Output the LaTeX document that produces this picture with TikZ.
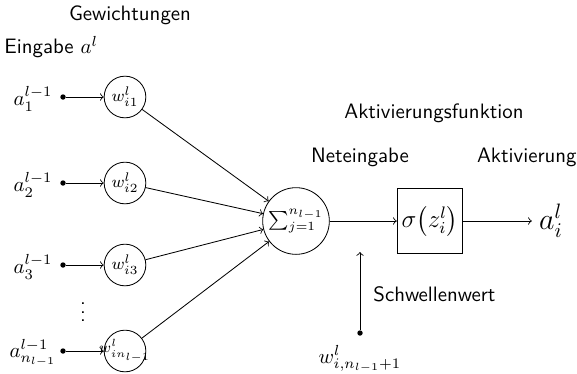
\documentclass[tikz,border=0pt]{standalone}
\usepackage{amsmath}
\usetikzlibrary{positioning,arrows}
\renewcommand{\familydefault}{\sfdefault}
\tikzset{
  weight/.style={draw, circle, minimum size=20pt, inner sep=0pt, font=\footnotesize},
  neuron/.style={draw, circle, minimum size=32pt, inner sep=0pt, font=\small},
  actbox/.style={draw, rectangle, minimum size=31.5pt, inner sep=0pt, font=\large},
  dotpt/.style={fill, circle, inner sep=0pt, minimum size=2.6pt},
  conn/.style={->, >=to}
}
\begin{document}
\begin{tikzpicture}[x=0.48pt, y=0.48pt]
    \useasboundingbox (0,0) rectangle (577,-373);

    % headings
    \node (gew) at (130,-15) {Gewichtungen};
    \node[anchor=west, inner sep=0pt] (ein) at (4,-47) {Eingabe $a^l$};
    \node (akf) at (434,-113) {Aktivierungsfunktion};
    \node (net) at (360,-157) {Neteingabe};
    \node[anchor=east, inner sep=0pt] (akt) at (577,-157) {Aktivierung};
    \node[anchor=west, inner sep=0pt] (schw) at (373,-294) {Schwellenwert};

    % inputs and weights
    \node (a1) at (33,-99) {$a_1^{l-1}$};
    \node (a2) at (33,-185) {$a_2^{l-1}$};
    \node (a3) at (33,-267) {$a_3^{l-1}$};
    \node (an) at (33,-353) {$a_{n_{l-1}}^{l-1}$};
    \node (vdots) at (83,-306) {$\vdots$};

    \node[dotpt] (d1) at (63,-97) {};
    \node[dotpt] (d2) at (63,-183) {};
    \node[dotpt] (d3) at (63,-265) {};
    \node[dotpt] (dn) at (63,-351) {};

    \node[weight] (w1) at (125,-97) {$w_{i1}^l$};
    \node[weight] (w2) at (125,-183) {$w_{i2}^l$};
    \node[weight] (w3) at (125,-265) {$w_{i3}^l$};
    \node[weight, font=\scriptsize, inner sep=-3pt] (wn) at (125,-351) {$w_{in_{l-1}}^l$};

    % neuron
    \node[neuron] (sum) at (296,-221) {$\sum_{j=1}^{n_{l-1}}$};
    \node[actbox] (sig) at (430,-221) {$\sigma\bigl(z_i^l\bigr)$};
    \node[font=\Large] (out) at (551,-221) {$a_i^l$};

    \node[dotpt] (db) at (360,-333) {};
    \node (wb) at (360,-359) {$w_{i,n_{l-1}+1}^l$};

    % connectors
    \draw[conn] (d1) -- (w1);
    \draw[conn] (d2) -- (w2);
    \draw[conn] (d3) -- (w3);
    \draw[conn] (dn) -- (wn);
    \draw[conn] (w1) -- (sum);
    \draw[conn] (w2) -- (sum);
    \draw[conn] (w3) -- (sum);
    \draw[conn] (wn) -- (sum);
    \draw[conn] (sum) -- (sig);
    \draw[conn] (sig) -- (out);
    \draw[conn] (db) -- (360,-252);
\end{tikzpicture}
\end{document}
